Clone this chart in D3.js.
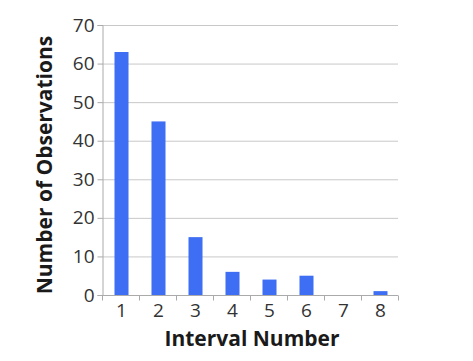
<!DOCTYPE html>
<html>
<head>
<meta charset="utf-8" />
<title>Interval bar chart</title>
<style>
body { margin: 0; background: #fff; }
#graph { width: 473px; height: 361px; }
.axis text { font-family: "Open Sans", sans-serif; font-weight: 400; font-size: 19px; fill: #333; }
.axis path, .axis line { stroke: #aaa; }
.grid line { stroke: #c8c8c8; }
.title { font-family: "Open Sans", sans-serif; font-weight: bold; font-size: 21px; fill: #1a1a1a; }
</style>
</head>
<body>
<div id="graph"></div>
<script src="https://cdnjs.cloudflare.com/ajax/libs/d3/7.8.5/d3.min.js"></script>
<script>
var categories = ["1", "2", "3", "4", "5", "6", "7", "8"]
var observations = [63, 45, 15, 6, 4, 5, 0, 1]
var yTicks = [0, 10, 20, 30, 40, 50, 60, 70]

!(function(){
    "use strict"

    var width = 473, height = 361
    var margin = {top: 25, left: 102, bottom: 66, right: 75}
    var chartWidth = width - margin.left - margin.right
    var chartHeight = height - margin.top - margin.bottom

    var svg = d3.select("#graph").append("svg").attr("width", width).attr("height", height)
    var chartLayer = svg.append("g").attr("transform", "translate(" + [margin.left, margin.top] + ")")

    var xScale = d3.scaleBand().domain(categories).range([0, chartWidth])
    var yScale = d3.scaleLinear().domain([0, 70]).range([chartHeight, 0])

    // gridlines
    chartLayer.append("g").attr("class", "grid")
        .selectAll("line").data(yTicks.slice(1)).enter().append("line")
        .attr("x1", 0).attr("x2", chartWidth)
        .attr("y1", function(d){ return yScale(d) + 0.5 })
        .attr("y2", function(d){ return yScale(d) + 0.5 })

    // bars
    var barW = 14
    chartLayer.selectAll(".bar").data(observations).enter().append("rect")
        .attr("class", "bar")
        .attr("fill", "#3d6ef3")
        .attr("x", function(d, i){ return xScale(categories[i]) + xScale.bandwidth() / 2 - barW / 2 + 1 })
        .attr("width", barW)
        .attr("y", function(d){ return yScale(d) })
        .attr("height", function(d){ return chartHeight - yScale(d) })

    // y axis
    var yAxis = d3.axisLeft(yScale).tickValues(yTicks).tickSize(5).tickPadding(3)
    chartLayer.append("g").attr("class", "axis y").attr("transform", "translate(0.5,0)").call(yAxis)

    // x axis: ticks between categories
    var xg = chartLayer.append("g").attr("class", "axis x").attr("transform", "translate(0," + (chartHeight + 0.5) + ")")
    xg.append("line").attr("x1", 0).attr("x2", chartWidth)
    var edges = categories.map(function(c){ return xScale(c) }).concat([chartWidth])
    xg.selectAll(".tk").data(edges).enter().append("line")
        .attr("x1", function(d){ return d + 0.5 }).attr("x2", function(d){ return d + 0.5 })
        .attr("y1", 0).attr("y2", 5)
    xg.selectAll("text").data(categories).enter().append("text")
        .attr("x", function(d){ return xScale(d) + xScale.bandwidth() / 2 + 1 })
        .attr("y", 21)
        .attr("text-anchor", "middle")
        .text(function(d){ return d })

    // titles
    svg.append("text").attr("class", "title")
        .attr("x", 252).attr("y", 346)
        .attr("text-anchor", "middle").text("Interval Number")
    svg.append("text").attr("class", "title")
        .attr("transform", "translate(52,165) rotate(-90)")
        .attr("text-anchor", "middle").text("Number of Observations")
}());
</script>
</body>
</html>
